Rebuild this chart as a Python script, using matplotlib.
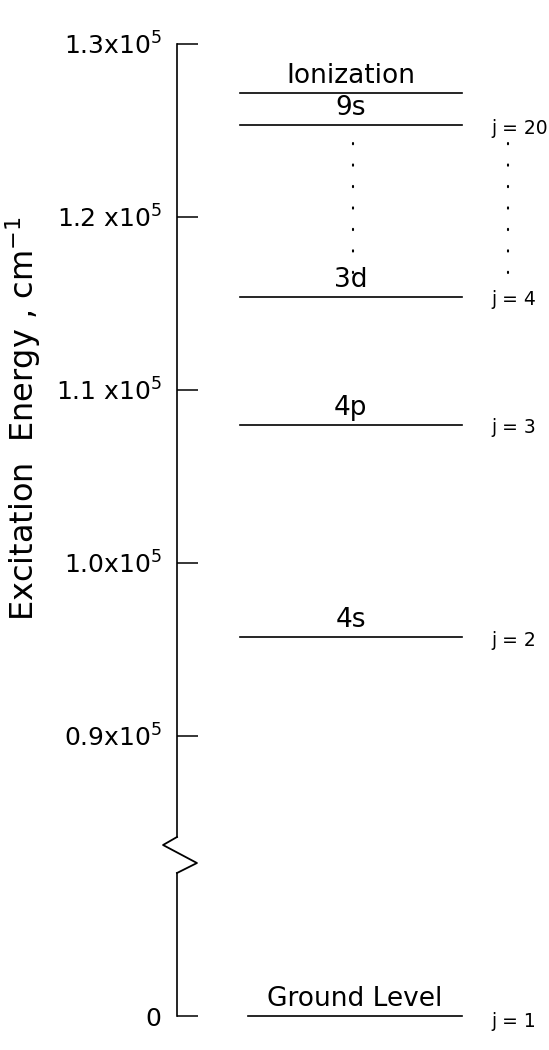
import matplotlib
matplotlib.use("Agg")
import matplotlib.pyplot as plt

# ---- data ----
level_names = ["4s", "4p", "3d", "9s", "Ionization"]
level_energies = [95700, 107980, 115380, 125300, 127170]
j_labels = ["j = 2", "j = 3", "j = 4", "j = 20", ""]
ground_name = "Ground Level"
ground_energy = 0
ground_j = "j = 1"
upper_ticks = [90000, 100000, 110000, 120000, 130000]
upper_tick_labels = ["0.9x10$^5$", "1.0x10$^5$", "1.1 x10$^5$", "1.2 x10$^5$", "1.3x10$^5$"]
lower_ticks = [0]
lower_tick_labels = ["0"]
dots_range = [124280, 116700]   # vertical ellipsis between 9s and 3d
ylabel = "Excitation  Energy , cm$^{-1}$"

plt.rcParams["font.family"] = ["DejaVu Sans"]

W, H = 549, 1050
fig = plt.figure(figsize=(W / 100, H / 100), dpi=100)

ax_left = 177 / W
ax_w = 1 - ax_left
# upper axes: 1.3e5 at px 44, scale 173 px per 1e4
up_top_px, up_bot_px = 44, 837
ax = fig.add_axes([ax_left, 1 - up_bot_px / H, ax_w, (up_bot_px - up_top_px) / H])
ymax = 130000
ymin = ymax - (up_bot_px - up_top_px) / 173 * 1e4
ax.set_ylim(ymin, ymax)
ax.set_xlim(0, 1)

# lower axes for the ground level
lo_top_px, lo_bot_px = 873, 1016
axl = fig.add_axes([ax_left, 1 - lo_bot_px / H, ax_w, (lo_bot_px - lo_top_px) / H])
axl.set_ylim(0, 8000)
axl.set_xlim(0, 1)

for a, ticks, labels in [(ax, upper_ticks, upper_tick_labels), (axl, lower_ticks, lower_tick_labels)]:
    for s in ["top", "right", "bottom"]:
        a.spines[s].set_visible(False)
    a.spines["left"].set_linewidth(1.2)
    a.set_xticks([])
    a.set_yticks(ticks)
    a.set_yticklabels(labels)
    a.tick_params(axis="y", direction="in", length=15, width=1.1, pad=11, labelsize=18)
    a.patch.set_visible(False)

# break mark
ax.plot([0, -0.0375, 0.0536, 0], [0, -0.0101, -0.0328, -0.0454], color="black", lw=1.3,
        transform=ax.transAxes, clip_on=False)

x0, x1 = 0.17, 0.765
xc = (x0 + x1) / 2
xj = 0.845
for name, e, jl in zip(level_names, level_energies, j_labels):
    ax.plot([x0, x1], [e, e], color="black", lw=1.2, clip_on=False)
    ax.annotate(name, (xc, e), xytext=(0, 3), textcoords="offset points",
                ha="center", va="bottom", fontsize=19)
    if jl:
        ax.annotate(jl, (xj, e), xytext=(0, -2), textcoords="offset points",
                    ha="left", va="center", fontsize=13.5)

# vertical ellipsis
for xd in [0.472, 0.890]:
    ax.plot([xd, xd], dots_range, color="black", lw=1.5,
            linestyle=(0, (0.6, 9.7)), dash_capstyle="round")

# ground level
axl.plot([x0 + 0.02, x1], [ground_energy, ground_energy], color="black", lw=1.2, clip_on=False)
axl.annotate(ground_name, ((x0 + 0.02 + x1) / 2, ground_energy), xytext=(0, 3),
             textcoords="offset points", ha="center", va="bottom", fontsize=19)
axl.annotate(ground_j, (xj, ground_energy), xytext=(0, -4), textcoords="offset points",
             ha="left", va="center", fontsize=13.5, annotation_clip=False)

ax.set_ylabel(ylabel, fontsize=23)
ax.yaxis.set_label_coords(-0.36, 0.528)

fig.savefig("out.png", dpi=100)
